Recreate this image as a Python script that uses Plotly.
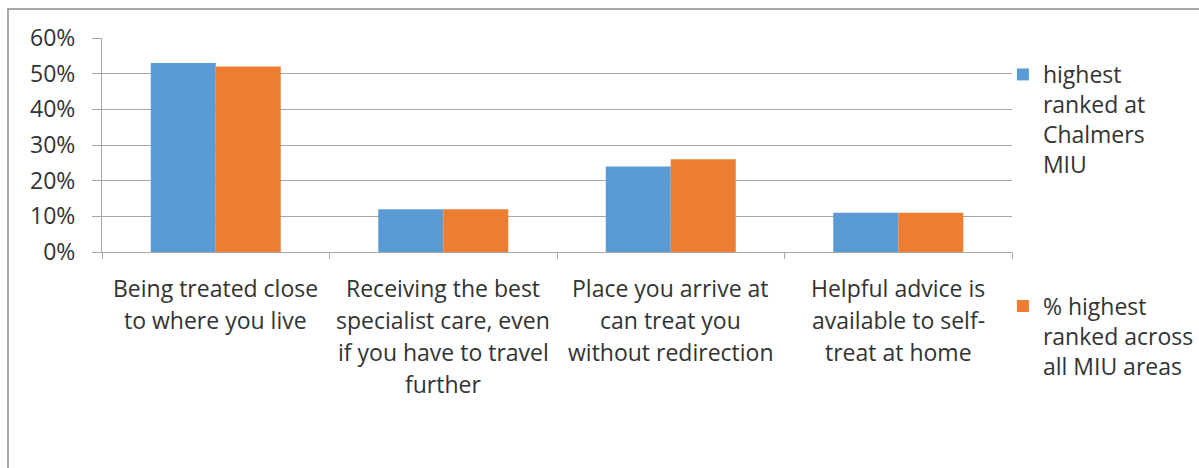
import plotly.graph_objects as go

# Survey results: share of respondents ranking each factor highest
categories = [
    "Being treated close<br>to where you live",
    "Receiving the best<br>specialist care, even<br>if you have to travel<br>further",
    "Place you arrive at<br>can treat you<br>without redirection",
    "Helpful advice is<br>available to self-<br>treat at home",
]
chalmers = [0.53, 0.12, 0.24, 0.11]
all_areas = [0.52, 0.12, 0.26, 0.11]
series_names = [
    "highest<br>ranked at<br>Chalmers<br>MIU",
    "% highest<br>ranked across<br>all MIU areas",
]
y_ticks = [0, 0.1, 0.2, 0.3, 0.4, 0.5, 0.6]

FONT = "Open Sans"
SIZE = 23
TEXT = "#333333"
GRID = "#a6a6a6"

fig = go.Figure()
fig.add_trace(go.Bar(x=categories, y=chalmers, name=series_names[0],
                     marker=dict(color="#5B9BD5", line=dict(width=0)),
                     legendgroup="a"))
fig.add_trace(go.Bar(x=categories, y=all_areas, name=series_names[1],
                     marker=dict(color="#ED7D31", line=dict(width=0)),
                     legendgroup="b"))

# Category labels, one annotation per line for wider line spacing
for cat in categories:
    for i, line in enumerate(cat.split("<br>")):
        fig.add_annotation(x=cat, xref="x", y=0, yref="paper",
                           text=line, showarrow=False,
                           xanchor="center", yanchor="middle",
                           yshift=-(36 + 32 * i),
                           font=dict(family=FONT, size=SIZE, color=TEXT))

# Outer chart frame
fig.add_shape(type="rect", xref="paper", yref="paper",
              x0=-0.1033, x1=1.4, y0=-1.5, y1=1.1355,
              line=dict(color="#8c8c8c", width=1.5), fillcolor="rgba(0,0,0,0)",
              layer="below")

fig.update_layout(
    width=1199, height=468,
    margin=dict(l=102, r=187, t=38, b=216, autoexpand=False),
    paper_bgcolor="white", plot_bgcolor="white",
    barmode="group", bargap=0.4286, bargroupgap=0,
    font=dict(family=FONT, size=SIZE, color=TEXT),
    showlegend=True,
    legend=dict(x=0.99, xanchor="left", y=0.93, yanchor="top",
                valign="top", tracegroupgap=109, traceorder="grouped",
                itemwidth=30, maxheight=460,
                font=dict(family=FONT, size=SIZE, color=TEXT),
                bgcolor="rgba(0,0,0,0)"),
    xaxis=dict(showticklabels=False, showline=True, linecolor=GRID,
               linewidth=1, ticks="outside", tickson="boundaries",
               ticklen=6, tickcolor=GRID, showgrid=False),
    yaxis=dict(range=[0, 0.6], tickvals=y_ticks, tickformat=".0%",
               showline=True, linecolor=GRID, linewidth=1,
               ticks="outside", ticklen=9, tickcolor=GRID,
               gridcolor=GRID, gridwidth=1, zeroline=False,
               ticklabelstandoff=12,
               tickfont=dict(family=FONT, size=SIZE, color=TEXT)),
)

fig.write_html("out.html")
